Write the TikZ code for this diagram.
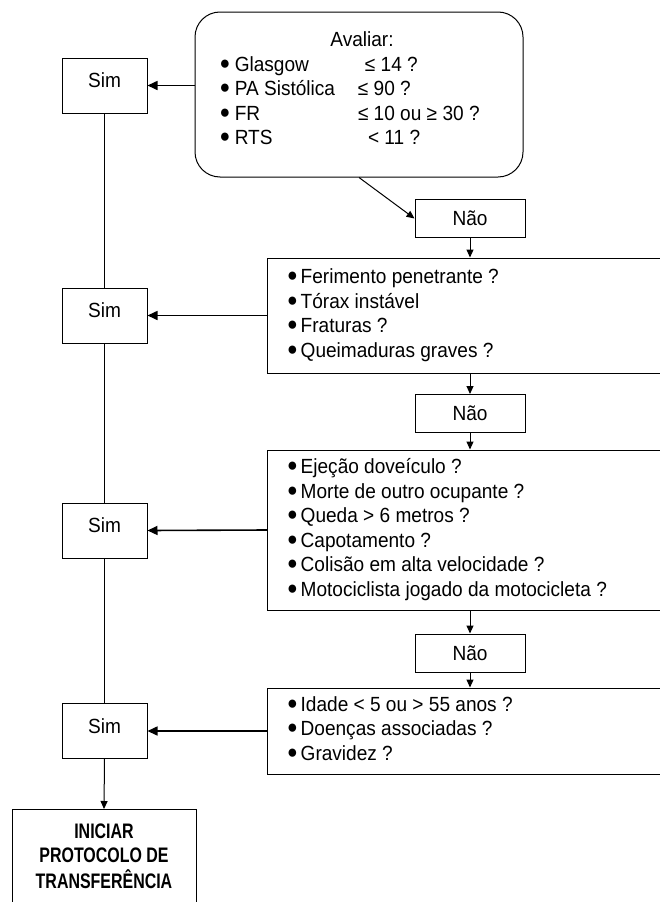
\documentclass[tikz,border=0pt]{standalone}
\usepackage{fontspec}
\setmainfont{Liberation Sans}[FakeStretch=0.93]
\newfontfamily\narrowbold{Liberation Sans}[FakeStretch=0.76]
\usetikzlibrary{arrows.meta}
\newcommand\bulsym{\raisebox{2pt}{\fontsize{19}{19}\selectfont ●}}
\newcommand\bul{\bulsym\hspace*{3pt}}
\begin{document}
\begin{tikzpicture}[x=1pt,y=-1pt,
  every node/.style={font=\fontsize{20.5}{24.5}\selectfont},
  box/.style={draw, line width=1pt, inner sep=0pt},
  simbox/.style={box, minimum width=85pt, minimum height=55pt, text depth=10pt},
  naobox/.style={box, minimum width=110pt, minimum height=38pt},
  listbox/.style={box, anchor=west, inner xsep=19.5pt, inner ysep=0pt},
  arr/.style={line width=1.6pt, -{Triangle[length=10pt,width=9pt]}},
  darr/.style={line width=1pt, -{Triangle[length=8pt,width=7pt]}},
  link/.style={line width=1pt}]
\useasboundingbox (0,0) rectangle (660,902);
\fill[white] (0,0) rectangle (660,902);
\clip (0,0) rectangle (660,902);

\node[box, rounded corners=25pt, minimum width=328pt, minimum height=165pt] (rb) at (359,94.5) {%
\begin{tabular}{@{}p{136.4pt}@{}p{142.4pt}@{}}
\multicolumn{2}{@{}c@{}}{\hspace*{6pt}Avaliar:}\\
\bulsym\hspace*{4.5pt}Glasgow & \hspace*{9pt}≤ 14 ?\\
\bulsym\hspace*{4.5pt}PA Sistólica & \hspace*{2pt}≤ 90 ?\\
\bulsym\hspace*{4.5pt}FR & \hspace*{2pt}≤ 10 ou ≥ 30 ?\\
\bulsym\hspace*{4.5pt}RTS & \hspace*{12pt}< 11 ?\rule[-14.4pt]{0pt}{0pt}
\end{tabular}};

\node[simbox] (sim1) at (104.5,85.5) {Sim};
\node[simbox] (sim2) at (104.5,315.5) {Sim};
\node[simbox] (sim3) at (104.5,530.5) {Sim};
\node[simbox] (sim4) at (104.5,731) {Sim};

\node[naobox] (nao1) at (470,218.5) {Não};
\node[naobox] (nao2) at (470,413.5) {Não};
\node[naobox] (nao3) at (470,653) {Não};

\node[listbox, minimum height=115pt] (box2) at (267,315.5) {%
\begin{tabular}{@{}p{382pt}@{}}
\bul Ferimento penetrante ?\\
\bul Tórax instável\\
\bul Fraturas ?\\
\bul Queimaduras graves ?
\end{tabular}};

\node[listbox, minimum height=160pt] (box3) at (267,530) {%
\begin{tabular}{@{}p{382pt}@{}}
\bul Ejeção doveículo ?\\
\bul Morte de outro ocupante ?\\
\bul Queda > 6 metros ?\\
\bul Capotamento ?\\
\bul Colisão em alta velocidade ?\\
\bul Motociclista jogado da motocicleta ?
\end{tabular}};

\node[listbox, minimum height=86pt] (box4) at (267,731) {%
\begin{tabular}{@{}p{382pt}@{}}
\bul Idade < 5 ou > 55 anos ?\\
\bul Doenças associadas ?\\
\bul Gravidez ?
\end{tabular}};

\node[box, anchor=north, minimum width=184pt, minimum height=98pt,
  font=\narrowbold\bfseries\fontsize{21}{24}\selectfont] (final) at (104,809) {%
\begin{tabular}{@{}c@{}}INICIAR\\PROTOCOLO DE\\TRANSFERÊNCIA\end{tabular}};

\draw[arr] (rb.west |- sim1.east) -- (sim1.east);
\draw[arr] (box2.west) -- (sim2.east);
\draw[arr] (box3.west) -- (sim3.east);
\draw[arr] (box4.west) -- (sim4.east);

\draw[darr] (rb.south) -- (nao1.west);
\draw[darr] (nao1.south) -- (nao1.south |- box2.north);
\draw[darr] (box2.south -| nao2.north) -- (nao2.north);
\draw[darr] (nao2.south) -- (nao2.south |- box3.north);
\draw[darr] (box3.south -| nao3.north) -- (nao3.north);
\draw[darr] (nao3.south) -- (nao3.south |- box4.north);

\draw[link] (sim1.south) -- (sim2.north);
\draw[link] (sim2.south) -- (sim3.north);
\draw[link] (sim3.south) -- (sim4.north);
\draw[darr] (sim4.south) -- (final.north);
\end{tikzpicture}
\end{document}
